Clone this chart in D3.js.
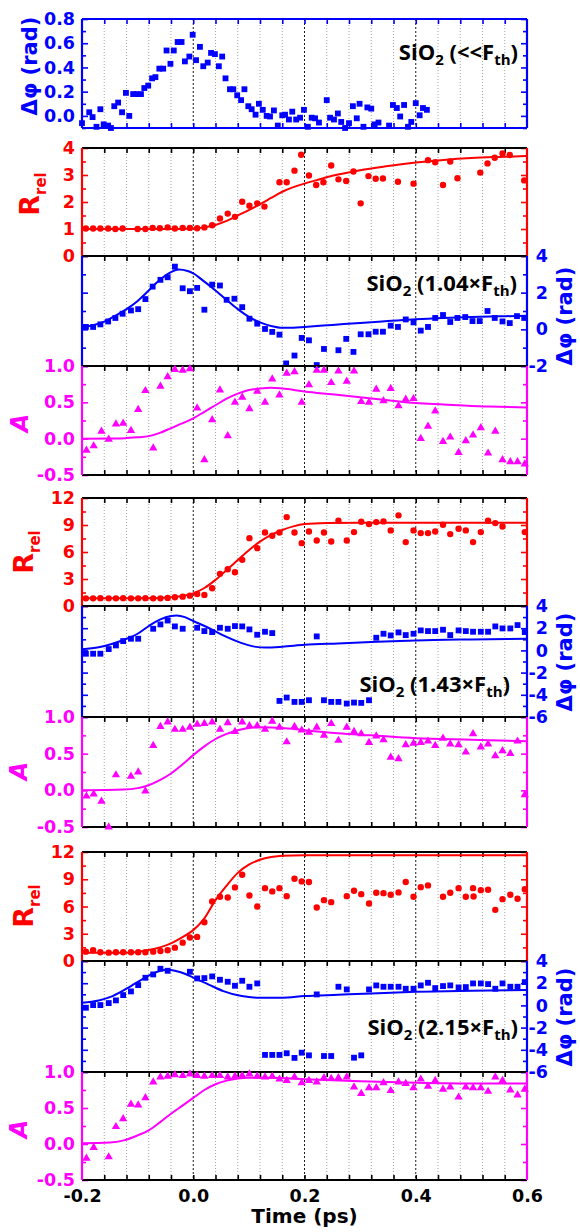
<!DOCTYPE html>
<html>
<head>
<meta charset="utf-8">
<script src="https://cdn.jsdelivr.net/npm/d3@7"></script>
<style>
  html, body { margin: 0; padding: 0; background: #fff; }
  svg text { font-family: "DejaVu Sans", sans-serif; font-weight: bold; }
  svg .tick text { font-size: 17.5px; }
  svg .note { font-family: "Open Sans", sans-serif; font-weight: 700; font-size: 22px; }
</style>
</head>
<body>
<svg id="plot" width="580" height="1232"></svg>
<script>
'use strict';

const RED = '#ff0000';
const BLUE = '#0000ff';
const MAGENTA = '#ff00ff';

/* x axis */
const xLabels = [-0.2, 0.0, 0.2, 0.4, 0.6];
const gridMajor = [0.0, 0.2, 0.4];
const gridMinor = [-0.16, -0.12, -0.08, -0.04, 0.04, 0.08, 0.12, 0.16, 0.24, 0.28, 0.32, 0.36, 0.44, 0.48, 0.52, 0.56];

/* y ticks */
const phiLowMajor = [0.0, 0.2, 0.4, 0.6, 0.8];
const phiLowMinor = [-0.1, 0.1, 0.3, 0.5, 0.7];
const rel1Major = [0, 1, 2, 3, 4];
const rel1Minor = [0.5, 1.5, 2.5, 3.5];
const relMajor = [0, 3, 6, 9, 12];
const relMinor = [1.5, 4.5, 7.5, 10.5];
const phi1Major = [-2, 0, 2, 4];
const phi1Minor = [-1, 1, 3];
const phiMajor = [-6, -4, -2, 0, 2, 4];
const phiMinor = [-5, -3, -1, 1, 3];
const aMajor = [-0.5, 0.0, 0.5, 1.0];
const aMinor = [-0.25, 0.25, 0.75];

/* measured data: [time (ps), value] */
const phiLow = [[-0.2,-0.06],[-0.187,0.03],[-0.181,-0.01],[-0.174,-0.09],[-0.167,0.055],[-0.161,-0.07],[-0.153,-0.08],[-0.148,-0.1],[-0.142,0.08],[-0.135,0.11],[-0.128,0.03],[-0.121,0.19],[-0.115,0.0],[-0.108,0.18],[-0.102,0.18],[-0.094,0.18],[-0.088,0.23],[-0.081,0.25],[-0.074,0.31],[-0.068,0.32],[-0.061,0.39],[-0.054,0.39],[-0.048,0.54],[-0.041,0.43],[-0.035,0.54],[-0.028,0.61],[-0.021,0.61],[-0.015,0.45],[-0.007,0.49],[-0.001,0.67],[0.005,0.46],[0.012,0.57],[0.018,0.41],[0.026,0.44],[0.032,0.52],[0.039,0.51],[0.046,0.41],[0.052,0.49],[0.058,0.31],[0.066,0.22],[0.072,0.22],[0.079,0.17],[0.086,0.13],[0.092,0.22],[0.099,0.08],[0.105,0.055],[0.112,0.01],[0.118,0.1],[0.125,0.05],[0.132,0.0],[0.138,-0.005],[0.145,0.045],[0.152,-0.08],[0.16,0.005],[0.165,0.01],[0.172,-0.03],[0.178,0.035],[0.185,-0.03],[0.192,-0.015],[0.199,0.05],[0.206,-0.09],[0.213,-0.015],[0.219,-0.02],[0.226,-0.055],[0.24,0.13],[0.246,-0.015],[0.253,-0.03],[0.26,0.02],[0.266,-0.05],[0.273,-0.1],[0.28,-0.06],[0.287,0.08],[0.294,-0.02],[0.299,0.1],[0.306,-0.09],[0.313,0.07],[0.32,0.06],[0.326,-0.07],[0.333,-0.055],[0.352,-0.08],[0.359,0.09],[0.366,0.065],[0.372,-0.005],[0.379,0.09],[0.386,-0.09],[0.392,-0.05],[0.4,0.105],[0.407,0.005],[0.413,0.065],[0.42,0.05]];

const rel1 = [[-0.193,1.02],[-0.18,1.02],[-0.167,1.02],[-0.153,1.02],[-0.14,1.0],[-0.127,1.02],[-0.1,1.0],[-0.086,1.0],[-0.073,1.04],[-0.06,1.03],[-0.046,1.06],[-0.033,1.02],[-0.019,1.04],[-0.006,1.04],[0.007,1.03],[0.02,1.06],[0.034,1.14],[0.048,1.39],[0.062,1.57],[0.075,1.45],[0.088,2.01],[0.101,1.86],[0.115,1.95],[0.128,1.83],[0.155,2.73],[0.168,2.73],[0.182,3.16],[0.194,3.75],[0.208,2.98],[0.221,2.63],[0.234,2.73],[0.248,3.35],[0.261,2.84],[0.275,2.78],[0.288,3.13],[0.301,1.95],[0.315,2.96],[0.328,2.86],[0.341,2.87],[0.368,2.75],[0.396,2.68],[0.422,3.55],[0.435,3.47],[0.449,2.63],[0.462,3.5],[0.475,2.88],[0.516,3.09],[0.529,3.43],[0.542,3.64],[0.556,3.8],[0.569,3.74],[0.595,2.8]];
const rel1Fit = [[-0.2,1],[-0.04,1],[0,1.02],[0.02,1.06],[0.04,1.15],[0.06,1.3],[0.08,1.5],[0.1,1.7],[0.12,1.92],[0.14,2.15],[0.16,2.38],[0.18,2.55],[0.2,2.68],[0.22,2.8],[0.25,2.97],[0.3,3.18],[0.35,3.33],[0.4,3.46],[0.45,3.56],[0.5,3.63],[0.55,3.67],[0.6,3.7]];

const phi1 = [[-0.193,0.13],[-0.18,0.13],[-0.167,0.27],[-0.153,0.43],[-0.14,0.62],[-0.127,0.85],[-0.112,1.03],[-0.099,1.1],[-0.086,1.65],[-0.073,2.33],[-0.059,2.7],[-0.046,2.84],[-0.033,3.42],[-0.019,2.24],[-0.006,2.08],[0.007,2.26],[0.02,1.07],[0.034,2.44],[0.048,2.39],[0.06,1.61],[0.074,1.67],[0.088,1.21],[0.101,0.58],[0.115,0.31],[0.129,0.02],[0.142,-0.14],[0.155,-0.29],[0.167,-1.86],[0.182,-1.43],[0.195,-0.47],[0.208,-0.6],[0.222,-1.95],[0.235,-1.07],[0.261,-1.14],[0.275,-0.52],[0.288,-1.23],[0.301,-0.27],[0.315,-0.27],[0.328,-0.13],[0.341,-0.13],[0.355,0.2],[0.368,0.13],[0.382,0.54],[0.396,0.38],[0.409,-0.07],[0.422,0.13],[0.435,0.62],[0.449,0.78],[0.462,0.4],[0.475,0.62],[0.489,0.67],[0.502,0.45],[0.515,0.45],[0.529,1.0],[0.542,0.62],[0.556,0.43],[0.569,0.34],[0.582,0.72],[0.595,0.62]];
const phi1Fit = [[-0.2,0.1],[-0.18,0.22],[-0.16,0.42],[-0.14,0.75],[-0.12,1.1],[-0.1,1.55],[-0.08,2.12],[-0.06,2.7],[-0.04,3.12],[-0.026,3.26],[-0.01,3.18],[0,3.05],[0.02,2.6],[0.04,2.12],[0.06,1.6],[0.08,1.1],[0.1,0.68],[0.12,0.38],[0.14,0.18],[0.16,0.08],[0.18,0.09],[0.2,0.13],[0.25,0.24],[0.3,0.35],[0.35,0.45],[0.4,0.55],[0.45,0.62],[0.5,0.67],[0.55,0.71],[0.6,0.74]];

const a1 = [[-0.192,-0.16],[-0.179,-0.1],[-0.165,0.1],[-0.152,-0.01],[-0.139,0.2],[-0.126,0.21],[-0.112,0.11],[-0.099,0.4],[-0.086,0.66],[-0.072,-0.13],[-0.059,0.72],[-0.046,0.85],[-0.033,0.95],[-0.019,0.94],[-0.006,0.96],[0.007,0.42],[0.02,-0.29],[0.034,0.26],[0.048,0.67],[0.062,0.04],[0.075,0.5],[0.088,0.57],[0.101,0.41],[0.115,0.65],[0.129,0.5],[0.142,0.82],[0.155,0.6],[0.168,0.9],[0.182,0.92],[0.195,0.5],[0.208,0.74],[0.222,0.94],[0.235,0.94],[0.248,0.77],[0.261,0.93],[0.276,0.79],[0.289,0.93],[0.302,0.51],[0.316,0.5],[0.329,0.68],[0.342,0.52],[0.355,0.69],[0.369,0.45],[0.382,0.54],[0.396,0.55],[0.409,0.0],[0.422,0.17],[0.435,0.38],[0.449,-0.04],[0.462,0.02],[0.477,-0.19],[0.49,-0.03],[0.503,0.05],[0.517,0.15],[0.53,-0.2],[0.543,0.1],[0.556,-0.29],[0.57,-0.32],[0.583,-0.32],[0.596,-0.35]];
const a1Fit = [[-0.2,0],[-0.14,0.002],[-0.12,0.008],[-0.1,0.018],[-0.08,0.035],[-0.06,0.08],[-0.04,0.145],[-0.02,0.21],[0,0.28],[0.02,0.37],[0.04,0.46],[0.06,0.55],[0.08,0.62],[0.1,0.67],[0.12,0.69],[0.14,0.7],[0.16,0.69],[0.2,0.65],[0.25,0.61],[0.3,0.57],[0.35,0.53],[0.4,0.49],[0.45,0.47],[0.5,0.45],[0.55,0.44],[0.6,0.43]];

const rel2 = [[-0.193,0.85],[-0.18,0.85],[-0.167,0.87],[-0.152,0.85],[-0.139,0.85],[-0.126,0.87],[-0.112,0.85],[-0.099,0.85],[-0.086,0.87],[-0.072,0.85],[-0.059,0.85],[-0.046,0.9],[-0.033,0.97],[-0.019,1.04],[-0.006,1.15],[0.007,1.34],[0.02,1.23],[0.034,1.97],[0.048,3.57],[0.062,4.09],[0.075,3.75],[0.088,5.13],[0.101,7.54],[0.115,6.43],[0.129,8.17],[0.142,7.8],[0.155,8.17],[0.168,9.88],[0.182,8.17],[0.195,6.98],[0.208,8.28],[0.222,7.28],[0.235,8.17],[0.248,7.17],[0.261,9.47],[0.276,7.28],[0.289,8.21],[0.302,9.36],[0.316,9.1],[0.329,9.32],[0.342,9.4],[0.355,8.4],[0.369,10.07],[0.382,7.1],[0.396,8.4],[0.409,8.1],[0.422,8.1],[0.435,8.28],[0.449,9.03],[0.462,7.99],[0.477,8.58],[0.49,8.4],[0.503,7.1],[0.517,8.21],[0.53,9.47],[0.543,9.21],[0.556,8.84],[0.596,8.21]];
const rel2Fit = [[-0.2,0.85],[-0.08,0.87],[-0.06,0.9],[-0.04,0.97],[-0.02,1.12],[0,1.4],[0.02,2.0],[0.04,2.9],[0.06,4.0],[0.08,5.1],[0.1,6.2],[0.12,7.15],[0.14,7.9],[0.16,8.45],[0.18,8.85],[0.2,9.1],[0.24,9.22],[0.3,9.25],[0.6,9.25]];

const phi2 = [[-0.193,-0.3],[-0.18,-0.3],[-0.167,-0.3],[-0.152,0.12],[-0.139,0.45],[-0.126,0.84],[-0.112,1.05],[-0.099,1.05],[-0.072,1.95],[-0.059,2.34],[-0.046,2.69],[-0.033,2.16],[-0.019,1.95],[0.007,2.04],[0.02,1.74],[0.034,1.65],[0.048,2.04],[0.062,1.95],[0.075,2.19],[0.088,2.16],[0.101,1.89],[0.115,1.41],[0.129,1.68],[0.142,1.56],[0.155,-4.55],[0.168,-4.25],[0.182,-4.64],[0.195,-4.64],[0.208,-4.49],[0.222,1.26],[0.235,-4.49],[0.248,-4.64],[0.261,-4.64],[0.276,-4.79],[0.289,-4.7],[0.302,-4.73],[0.316,-4.49],[0.329,1.14],[0.342,1.5],[0.355,1.35],[0.369,1.62],[0.382,1.38],[0.396,1.5],[0.409,1.8],[0.422,1.74],[0.435,1.74],[0.449,1.86],[0.462,1.38],[0.477,1.8],[0.49,1.74],[0.503,1.68],[0.517,1.68],[0.53,1.68],[0.543,2.16],[0.556,1.98],[0.57,1.98],[0.583,2.28],[0.596,1.65]];
const phi2Fit = [[-0.2,0.1],[-0.17,0.28],[-0.145,0.6],[-0.12,1.05],[-0.1,1.5],[-0.08,2.2],[-0.06,2.78],[-0.04,3.1],[-0.03,3.14],[-0.015,3.0],[0,2.65],[0.027,2.04],[0.054,1.35],[0.087,0.66],[0.11,0.34],[0.13,0.26],[0.16,0.33],[0.2,0.5],[0.26,0.63],[0.32,0.75],[0.4,0.9],[0.5,0.99],[0.6,1.05]];

const a2 = [[-0.192,-0.08],[-0.179,-0.05],[-0.165,-0.15],[-0.152,-0.5],[-0.139,0.21],[-0.112,0.19],[-0.099,0.25],[-0.086,-0.01],[-0.072,0.61],[-0.059,0.87],[-0.046,0.93],[-0.033,0.83],[-0.019,0.83],[-0.006,0.86],[0.007,0.9],[0.02,0.91],[0.034,0.93],[0.048,0.83],[0.062,0.92],[0.075,0.8],[0.088,0.93],[0.101,0.88],[0.115,0.88],[0.129,0.83],[0.142,0.94],[0.155,0.86],[0.168,0.66],[0.182,0.87],[0.195,0.82],[0.208,0.79],[0.222,0.86],[0.235,0.75],[0.248,0.91],[0.261,0.68],[0.276,0.86],[0.289,0.8],[0.302,0.77],[0.316,0.65],[0.329,0.74],[0.342,0.69],[0.355,0.45],[0.369,0.43],[0.382,0.62],[0.396,0.64],[0.409,0.65],[0.422,0.67],[0.435,0.61],[0.449,0.71],[0.462,0.63],[0.477,0.62],[0.49,0.52],[0.503,0.77],[0.517,0.59],[0.53,0.63],[0.543,0.47],[0.556,0.54],[0.57,0.5],[0.583,0.67],[0.596,-0.06]];
const a2Fit = [[-0.2,0],[-0.125,0.01],[-0.1,0.03],[-0.086,0.055],[-0.06,0.14],[-0.04,0.23],[-0.02,0.35],[0,0.48],[0.02,0.6],[0.04,0.7],[0.06,0.77],[0.08,0.82],[0.1,0.85],[0.12,0.86],[0.16,0.85],[0.2,0.82],[0.26,0.78],[0.32,0.75],[0.4,0.71],[0.5,0.69],[0.6,0.67]];

const rel3 = [[-0.193,1.03],[-0.18,1.18],[-0.167,0.96],[-0.152,0.92],[-0.139,0.96],[-0.126,0.96],[-0.112,0.96],[-0.099,0.96],[-0.086,0.96],[-0.072,1.03],[-0.059,1.1],[-0.046,1.18],[-0.033,1.47],[-0.019,2.02],[-0.006,2.58],[0.007,2.65],[0.02,4.27],[0.034,6.55],[0.048,7.07],[0.062,6.99],[0.075,8.1],[0.088,9.5],[0.101,7.21],[0.115,6.0],[0.129,8.02],[0.142,7.66],[0.155,8.02],[0.168,7.14],[0.182,9.05],[0.195,8.76],[0.208,8.69],[0.222,5.89],[0.235,6.7],[0.248,6.48],[0.276,7.14],[0.289,7.73],[0.302,7.36],[0.316,6.33],[0.329,7.51],[0.342,7.47],[0.355,7.29],[0.369,7.55],[0.382,8.69],[0.396,7.07],[0.409,8.13],[0.422,8.32],[0.449,7.07],[0.462,7.51],[0.477,8.02],[0.49,7.07],[0.503,8.02],[0.504,7.1],[0.517,7.8],[0.53,7.84],[0.543,5.63],[0.556,6.81],[0.57,7.29],[0.583,6.85],[0.596,7.91]];
const rel3Fit = [[-0.2,0.9],[-0.12,0.92],[-0.1,1.0],[-0.08,1.2],[-0.06,1.5],[-0.04,1.95],[-0.02,2.6],[0,3.4],[0.02,4.7],[0.04,6.7],[0.06,8.3],[0.08,9.7],[0.1,10.6],[0.12,11.15],[0.14,11.45],[0.16,11.6],[0.2,11.63],[0.6,11.63]];

const phi3 = [[-0.193,-0.21],[-0.18,0.03],[-0.167,0.03],[-0.152,0.21],[-0.139,0.45],[-0.126,0.93],[-0.112,1.26],[-0.099,1.83],[-0.086,2.49],[-0.072,2.79],[-0.059,3.3],[-0.046,3.12],[-0.006,3.03],[0.007,2.43],[0.02,2.46],[0.034,2.61],[0.048,2.31],[0.062,2.13],[0.075,1.77],[0.088,2.22],[0.101,1.68],[0.115,1.98],[0.129,-4.46],[0.142,-4.46],[0.155,-4.46],[0.168,-4.31],[0.182,-4.73],[0.195,-4.26],[0.208,-4.5],[0.222,0.99],[0.235,-4.56],[0.248,-4.56],[0.261,1.68],[0.276,1.44],[0.289,-4.71],[0.302,-4.5],[0.316,1.44],[0.329,1.8],[0.342,1.68],[0.355,1.68],[0.369,1.68],[0.382,1.5],[0.396,1.5],[0.409,1.8],[0.422,2.04],[0.435,1.56],[0.449,1.74],[0.462,1.8],[0.477,1.62],[0.49,1.65],[0.503,1.98],[0.517,1.98],[0.53,1.92],[0.543,1.5],[0.556,1.98],[0.57,1.68],[0.583,1.68],[0.596,2.1]];
const phi3Fit = [[-0.2,0.24],[-0.17,0.45],[-0.145,0.84],[-0.112,1.74],[-0.092,2.34],[-0.072,2.88],[-0.052,3.18],[-0.04,3.2],[-0.033,3.12],[-0.015,2.85],[0,2.5],[0.027,1.9],[0.054,1.29],[0.087,0.84],[0.12,0.69],[0.16,0.69],[0.2,0.84],[0.26,0.96],[0.32,1.08],[0.4,1.23],[0.5,1.32],[0.6,1.38]];

const a3 = [[-0.192,-0.2],[-0.179,-0.05],[-0.152,-0.18],[-0.139,0.24],[-0.126,0.35],[-0.112,0.55],[-0.099,0.54],[-0.086,0.64],[-0.072,0.86],[-0.059,0.93],[-0.046,0.94],[-0.033,0.96],[-0.019,0.95],[-0.006,0.97],[0.007,0.95],[0.02,0.94],[0.034,0.95],[0.048,0.95],[0.062,0.93],[0.075,0.94],[0.088,0.95],[0.101,0.97],[0.115,0.94],[0.129,0.93],[0.142,0.94],[0.155,0.9],[0.168,0.88],[0.182,0.93],[0.195,0.85],[0.208,0.88],[0.222,0.86],[0.235,0.92],[0.248,0.91],[0.261,0.92],[0.276,0.93],[0.289,0.79],[0.302,0.7],[0.316,0.78],[0.329,0.78],[0.342,0.85],[0.355,0.74],[0.369,0.86],[0.382,0.84],[0.396,0.78],[0.409,0.9],[0.422,0.8],[0.435,0.88],[0.449,0.76],[0.462,0.79],[0.477,0.65],[0.49,0.79],[0.503,0.78],[0.517,0.78],[0.53,0.73],[0.543,0.93],[0.556,0.88],[0.57,0.75],[0.583,0.68],[0.596,0.76]];
const a3Fit = [[-0.2,0.01],[-0.15,0.02],[-0.125,0.05],[-0.1,0.12],[-0.08,0.19],[-0.06,0.3],[-0.04,0.42],[-0.02,0.53],[0,0.64],[0.02,0.75],[0.04,0.83],[0.06,0.88],[0.08,0.91],[0.1,0.92],[0.14,0.92],[0.2,0.9],[0.3,0.87],[0.4,0.85],[0.5,0.84],[0.6,0.84]];

const plotLeft = 82;
const plotRight = 527;

const svg = d3.select('#plot');
const x = d3.scaleLinear().domain([-0.2, 0.6]).range([plotLeft, plotRight]);

const oneDecimal = d => d.toFixed(1);
const integer = d => String(d);

const symbols = {
    circle: { type: d3.symbolCircle, size: 32 },
    square: { type: d3.symbolSquare, size: 34 },
    triangle: { type: d3.symbolTriangle, size: 30 }
};

function relPanel(data, fit, major, minor, top, bottom) {
    return { data, fit, domain: [0, major[major.length - 1]], major, minor, top, bottom,
        color: RED, symbol: 'circle', leftLabels: integer, rightLabels: null, edge: '#000', bottomEdge: false };
}

function phiPanel(data, fit, major, minor, top, bottom) {
    return { data, fit, domain: [major[0], major[major.length - 1]], major, minor, top, bottom,
        color: BLUE, symbol: 'square', leftLabels: null, rightLabels: integer, edge: '#000', bottomEdge: false };
}

function aPanel(data, fit, top, bottom) {
    return { data, fit, domain: [-0.5, 1.0], major: aMajor, minor: aMinor, top, bottom,
        color: MAGENTA, symbol: 'triangle', leftLabels: oneDecimal, rightLabels: null, edge: '#000', bottomEdge: true };
}

const panels = [
    { data: phiLow, fit: null, domain: [-0.1, 0.8], major: phiLowMajor, minor: phiLowMinor, top: 19, bottom: 128,
      color: BLUE, symbol: 'square', leftLabels: oneDecimal, rightLabels: null, edge: BLUE, bottomEdge: true },
    relPanel(rel1, rel1Fit, rel1Major, rel1Minor, 148, 256),
    phiPanel(phi1, phi1Fit, phi1Major, phi1Minor, 256, 366),
    aPanel(a1, a1Fit, 366, 475),
    relPanel(rel2, rel2Fit, relMajor, relMinor, 498, 606),
    phiPanel(phi2, phi2Fit, phiMajor, phiMinor, 606, 717),
    aPanel(a2, a2Fit, 717, 827),
    relPanel(rel3, rel3Fit, relMajor, relMinor, 852, 961),
    phiPanel(phi3, phi3Fit, phiMajor, phiMinor, 961, 1072),
    aPanel(a3, a3Fit, 1072, 1180)
];

function styleAxis(g, color) {
    g.select('.domain').remove();
    g.selectAll('.tick line').attr('stroke', color).attr('stroke-width', 1.6);
    g.selectAll('.tick text').attr('fill', color);
}

function renderGrid(layer, p) {
    layer.selectAll(null)
        .data(gridMinor)
        .enter()
        .append('line')
        .attr('x1', d => x(d)).attr('x2', d => x(d))
        .attr('y1', p.top).attr('y2', p.bottom)
        .attr('stroke', '#8c8c8c')
        .attr('stroke-width', 0.8)
        .attr('stroke-dasharray', '1,2');

    layer.selectAll(null)
        .data(gridMajor)
        .enter()
        .append('line')
        .attr('x1', d => x(d)).attr('x2', d => x(d))
        .attr('y1', p.top).attr('y2', p.bottom)
        .attr('stroke', '#000')
        .attr('stroke-width', 0.9)
        .attr('stroke-dasharray', '2,2');
}

function renderAxes(layer, p, y) {
    const xTickValues = gridMinor.concat(gridMajor);

    layer.append('g')
        .attr('transform', `translate(0, ${p.top})`)
        .call(d3.axisTop(x).tickValues(xTickValues).tickSize(-5).tickFormat(''))
        .call(g => styleAxis(g, p.edge));

    if (p.bottomEdge) {
        layer.append('g')
            .attr('transform', `translate(0, ${p.bottom})`)
            .call(d3.axisBottom(x).tickValues(xTickValues).tickSize(-5).tickFormat(''))
            .call(g => styleAxis(g, p.edge === BLUE ? BLUE : '#000'));
    }

    // left side
    layer.append('g')
        .attr('transform', `translate(${plotLeft}, 0)`)
        .call(d3.axisLeft(y).tickValues(p.minor).tickSize(-4).tickFormat(''))
        .call(g => styleAxis(g, p.color));
    layer.append('g')
        .attr('transform', `translate(${plotLeft}, 0)`)
        .call(d3.axisLeft(y).tickValues(p.major).tickSize(-6).tickPadding(7)
            .tickFormat(p.leftLabels || (() => '')))
        .call(g => styleAxis(g, p.color));

    // right side
    layer.append('g')
        .attr('transform', `translate(${plotRight}, 0)`)
        .call(d3.axisRight(y).tickValues(p.minor).tickSize(-4).tickFormat(''))
        .call(g => styleAxis(g, p.color));
    layer.append('g')
        .attr('transform', `translate(${plotRight}, 0)`)
        .call(d3.axisRight(y).tickValues(p.major).tickSize(-6)
            .tickFormat(p.rightLabels || (() => '')))
        .call(g => styleAxis(g, p.color))
        .call(g => g.selectAll('.tick text').attr('text-anchor', 'end').attr('x', 21));
}

function renderFrame(layer, p) {
    layer.append('line')
        .attr('x1', plotLeft).attr('x2', plotRight)
        .attr('y1', p.top).attr('y2', p.top)
        .attr('stroke', p.edge).attr('stroke-width', 2);
    if (p.bottomEdge) {
        layer.append('line')
            .attr('x1', plotLeft).attr('x2', plotRight)
            .attr('y1', p.bottom).attr('y2', p.bottom)
            .attr('stroke', p.edge).attr('stroke-width', 2);
    }
    [plotLeft, plotRight].forEach(side => {
        layer.append('line')
            .attr('x1', side).attr('x2', side)
            .attr('y1', p.top).attr('y2', p.bottom)
            .attr('stroke', p.color).attr('stroke-width', 2.2);
    });
}

function renderSeries(layer, p, y) {
    if (p.fit) {
        const line = d3.line()
            .x(d => x(d[0]))
            .y(d => y(d[1]))
            .curve(d3.curveMonotoneX);
        layer.append('path')
            .datum(p.fit)
            .attr('d', line)
            .attr('fill', 'none')
            .attr('stroke', p.color)
            .attr('stroke-width', 2);
    }

    const sym = symbols[p.symbol];
    layer.selectAll(null)
        .data(p.data)
        .enter()
        .append('path')
        .attr('transform', ([t, v]) => `translate(${x(t)}, ${y(v)})`)
        .attr('d', d3.symbol().type(sym.type).size(sym.size))
        .attr('fill', p.color);
}

function renderPanel(p) {
    const y = d3.scaleLinear().domain(p.domain).range([p.bottom, p.top]);
    const layer = svg.append('g');
    renderGrid(layer, p);
    renderAxes(layer, p, y);
    renderFrame(layer, p);
    renderSeries(layer, p, y);
}

panels.forEach(renderPanel);

/* bottom time axis labels */
svg.append('g')
    .attr('transform', `translate(0, 1180)`)
    .call(d3.axisBottom(x).tickValues(xLabels).tickSize(0).tickPadding(10).tickFormat(oneDecimal))
    .call(g => g.select('.domain').remove())
    .call(g => g.selectAll('.tick text').attr('fill', '#000'));

svg.append('text')
    .attr('x', (plotLeft + plotRight) / 2)
    .attr('y', 1223)
    .attr('text-anchor', 'middle')
    .attr('font-size', 20)
    .text('Time (ps)');

/* axis titles */
function verticalTitle(xPos, yPos, color, size) {
    return svg.append('text')
        .attr('transform', `translate(${xPos}, ${yPos}) rotate(-90)`)
        .attr('text-anchor', 'middle')
        .attr('fill', color)
        .attr('font-size', size);
}

verticalTitle(37, 66, BLUE, 21).text('Δφ (rad)');

[[39, 194], [33, 552], [33, 906]].forEach(([px, py]) => {
    const t = verticalTitle(px, py, RED, 27);
    t.append('tspan').text('R');
    t.append('tspan').attr('dy', 7).attr('font-size', 15).text('rel');
});

[[28, 423], [27, 771], [27, 1129]].forEach(([px, py]) => {
    verticalTitle(px, py, MAGENTA, 24).attr('font-style', 'italic').text('A');
});

[316, 662, 1017].forEach(py => {
    verticalTitle(572, py, BLUE, 21).text('Δφ (rad)');
});

/* sample annotations */
function sampleNote(xPos, yPos, fluence) {
    const t = svg.append('text')
        .attr('class', 'note')
        .attr('x', xPos)
        .attr('y', yPos)
        .attr('text-anchor', 'end')
        .attr('fill', '#000');
    t.append('tspan').text('SiO');
    t.append('tspan').attr('dy', 5).attr('font-size', 15).text('2');
    t.append('tspan').attr('dy', -5).text(` (${fluence}F`);
    t.append('tspan').attr('dy', 5).attr('font-size', 15).text('th');
    t.append('tspan').attr('dy', -5).text(')');
}

sampleNote(518, 60, '<<');
sampleNote(517, 291, '1.04×');
sampleNote(510, 692, '1.43×');
sampleNote(518, 1035, '2.15×');
</script>
</body>
</html>
